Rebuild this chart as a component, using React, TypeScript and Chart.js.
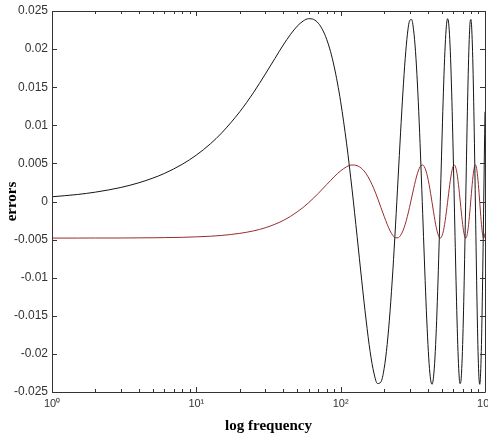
import React, { useEffect, useRef } from 'react';
import { Chart, registerables } from 'chart.js';

Chart.register(...registerables);

// frequency samples (Hz)
const frequencies = [
  1, 1.5, 2, 3, 4, 5, 6, 8, 10, 12.5, 15, 20, 25, 30, 35, 40, 45, 50, 55, 60,
  65, 70, 75, 80, 85, 90, 95, 100, 110, 120, 130, 140, 150, 160, 170, 180, 190,
  200, 210, 220, 230, 240, 250, 260, 270, 280, 290, 300, 310, 320, 330, 340,
  350, 360, 370, 380, 390, 400, 410, 420, 430, 440, 450, 460, 470, 480, 490,
  500, 510, 520, 530, 540, 550, 560, 570, 580, 590, 600, 610, 620, 630, 640,
  650, 660, 670, 680, 690, 700, 710, 720, 730, 740, 750, 760, 770, 780, 790,
  800, 810, 820, 830, 840, 850, 860, 870, 880, 890, 900, 910, 920, 930, 940,
  950, 960, 970, 980, 990, 1000,
];

// black curve (large oscillation)
const blackErrors = [
  0.00062, 0.00092, 0.00123, 0.00184, 0.00246, 0.00307, 0.00368, 0.00489, 0.00609, 0.00756,
  0.00901, 0.01178, 0.01435, 0.0167, 0.01876, 0.02053, 0.02195, 0.02301, 0.02369, 0.02399,
  0.02389, 0.0234, 0.02252, 0.02128, 0.0197, 0.01777, 0.01555, 0.01309, 0.00756, 0.00154,
  -0.00459, -0.01041, -0.01555, -0.0197, -0.02252, -0.02389, -0.02369, -0.02194, -0.01876, -0.01435,
  -0.00901, -0.00307, 0.00307, 0.00901, 0.01435, 0.01876, 0.02195, 0.02369, 0.02389, 0.02252,
  0.0197, 0.01555, 0.01041, 0.00459, -0.00154, -0.00756, -0.01309, -0.01777, -0.02128, -0.0234,
  -0.02399, -0.02301, -0.02053, -0.0167, -0.01178, -0.00609, 0, 0.00609, 0.01178, 0.0167,
  0.02053, 0.02301, 0.02399, 0.0234, 0.02128, 0.01777, 0.01309, 0.00756, 0.00154, -0.00459,
  -0.01041, -0.01555, -0.0197, -0.02252, -0.02389, -0.02369, -0.02194, -0.01876, -0.01435, -0.00901,
  -0.00307, 0.00307, 0.00901, 0.01435, 0.01876, 0.02195, 0.02369, 0.02389, 0.02252, 0.0197,
  0.01555, 0.01041, 0.00459, -0.00154, -0.00756, -0.01309, -0.01777, -0.02128, -0.0234, -0.02399,
  -0.02301, -0.02053, -0.0167, -0.01178, -0.00609, 0, 0.00609, 0.01178,
];

// red curve (small oscillation)
const redErrors = [
  -0.0048, -0.0048, -0.00479, -0.00479, -0.00477, -0.00476, -0.00474, -0.0047, -0.00464, -0.00456,
  -0.00445, -0.00418, -0.00385, -0.00345, -0.00299, -0.00249, -0.00194, -0.00136, -0.00077, -0.00015,
  0.00046, 0.00107, 0.00166, 0.00222, 0.00274, 0.00323, 0.00366, 0.00402, 0.00456, 0.00479,
  0.00471, 0.00432, 0.00366, 0.00274, 0.00166, 0.00046, -0.00077, -0.00194, -0.00299, -0.00385,
  -0.00445, -0.00476, -0.00476, -0.00445, -0.00385, -0.00299, -0.00194, -0.00077, 0.00046, 0.00166,
  0.00274, 0.00366, 0.00432, 0.00471, 0.00479, 0.00456, 0.00402, 0.00323, 0.00222, 0.00107,
  -0.00015, -0.00136, -0.00249, -0.00345, -0.00418, -0.00464, -0.0048, -0.00464, -0.00418, -0.00345,
  -0.00249, -0.00136, -0.00015, 0.00107, 0.00222, 0.00323, 0.00402, 0.00456, 0.00479, 0.00471,
  0.00432, 0.00366, 0.00274, 0.00166, 0.00046, -0.00077, -0.00194, -0.00299, -0.00385, -0.00445,
  -0.00476, -0.00476, -0.00445, -0.00385, -0.00299, -0.00194, -0.00077, 0.00046, 0.00166, 0.00274,
  0.00366, 0.00432, 0.00471, 0.00479, 0.00456, 0.00402, 0.00323, 0.00222, 0.00107, -0.00015,
  -0.00136, -0.00249, -0.00345, -0.00418, -0.00464, -0.0048, -0.00464, -0.00418,
];

const xTickValues = [1, 10, 100, 1000];
const xTickLabels = ['10\u2070', '10\u00B9', '10\u00B2', '10\u00B3'];
const yTickValues = [0.025, 0.02, 0.015, 0.01, 0.005, 0, -0.005, -0.01, -0.015, -0.02, -0.025];
const yTickLabels = ['0.025', '0.02', '0.015', '0.01', '0.005', '0', '-0.005', '-0.01', '-0.015', '-0.02', '-0.025'];

const AXIS_COLOR = '#333333';

const matlabAxes = {
  id: 'matlabAxes',
  afterDatasetsDraw(chart: any) {
    const { ctx, chartArea } = chart;
    const { left, right, top, bottom } = chartArea;
    const xs = chart.scales.x;
    const ys = chart.scales.y;
    ctx.save();
    ctx.strokeStyle = AXIS_COLOR;
    ctx.lineWidth = 1;
    ctx.beginPath();
    ctx.rect(left + 0.5, top + 0.5, right - left, bottom - top);
    ctx.stroke();
    ctx.beginPath();
    // x ticks, major and minor, inward on bottom and top
    for (let d = 0; d < xTickValues.length; d++) {
      const base = xTickValues[d];
      const maxM = d === xTickValues.length - 1 ? 1 : 9;
      for (let m = 1; m <= maxM; m++) {
        const px = Math.round(xs.getPixelForValue(base * m)) + 0.5;
        const len = m === 1 ? 5 : 3;
        ctx.moveTo(px, bottom);
        ctx.lineTo(px, bottom - len);
        ctx.moveTo(px, top);
        ctx.lineTo(px, top + len);
      }
    }
    for (const v of yTickValues) {
      const py = Math.round(ys.getPixelForValue(v)) + 0.5;
      ctx.moveTo(left, py);
      ctx.lineTo(left + 5, py);
      ctx.moveTo(right, py);
      ctx.lineTo(right - 5, py);
    }
    ctx.stroke();
    ctx.restore();
  },
};

export default function App() {
  const canvasRef = useRef<HTMLCanvasElement | null>(null);

  useEffect(() => {
    const canvas = canvasRef.current;
    if (!canvas) return;
    const chart = new Chart(canvas, {
      type: 'line',
      data: {
        datasets: [
          {
            label: 'black',
            data: frequencies.map((f, i) => ({ x: f, y: blackErrors[i] })),
            borderColor: '#151515',
            borderWidth: 1,
            pointRadius: 0,
            cubicInterpolationMode: 'monotone',
          },
          {
            label: 'red',
            data: frequencies.map((f, i) => ({ x: f, y: redErrors[i] })),
            borderColor: 'rgb(150, 45, 45)',
            borderWidth: 1,
            pointRadius: 0,
            cubicInterpolationMode: 'monotone',
          },
        ],
      },
      options: {
        animation: false,
        responsive: false,
        devicePixelRatio: 1,
        layout: { padding: { top: 11, right: 3, left: 0, bottom: 0 } },
        plugins: {
          legend: { display: false },
          tooltip: { enabled: false },
        },
        scales: {
          x: {
            type: 'logarithmic',
            min: 1,
            max: 1000,
            grid: { display: false, drawTicks: false },
            border: { display: false },
            afterBuildTicks: (scale: any) => {
              scale.ticks = xTickValues.map((v) => ({ value: v }));
            },
            afterFit: (scale: any) => {
              scale.height = 47;
              scale.paddingLeft = 0;
              scale.paddingRight = 0;
            },
            ticks: {
              autoSkip: false,
              maxRotation: 0,
              padding: 5,
              color: '#333333',
              font: { family: '"Liberation Sans", Arial, sans-serif', size: 11 },
              callback: (value: any) => {
                const idx = xTickValues.indexOf(Number(value));
                return idx >= 0 ? xTickLabels[idx] : '';
              },
            },
            title: {
              display: true,
              text: 'log frequency',
              color: '#000000',
              padding: { top: 0, bottom: 4 },
              font: { family: '"Liberation Serif", "Times New Roman", serif', size: 15, weight: 'bold' },
            },
          },
          y: {
            type: 'linear',
            min: -0.025,
            max: 0.025,
            grid: { display: false, drawTicks: false },
            border: { display: false },
            afterBuildTicks: (scale: any) => {
              scale.ticks = yTickValues.map((v) => ({ value: v }));
            },
            afterFit: (scale: any) => {
              scale.width = 52;
              scale.paddingTop = 0;
              scale.paddingBottom = 0;
            },
            ticks: {
              autoSkip: false,
              padding: 4,
              color: '#333333',
              font: { family: '"Liberation Sans", Arial, sans-serif', size: 12 },
              callback: (value: any) => {
                const idx = yTickValues.findIndex((v) => Math.abs(v - Number(value)) < 1e-9);
                return idx >= 0 ? yTickLabels[idx] : '';
              },
            },
            title: {
              display: true,
              text: 'errors',
              color: '#000000',
              padding: { top: 3, bottom: 0 },
              font: { family: '"Liberation Serif", "Times New Roman", serif', size: 15, weight: 'bold' },
            },
          },
        },
      },
      plugins: [matlabAxes],
    });
    return () => chart.destroy();
  }, []);

  return (
    <div style={{ position: 'fixed', left: 0, top: 0, width: 488, height: 439, background: '#ffffff' }}>
      <canvas ref={canvasRef} width={488} height={439} style={{ display: 'block', width: 488, height: 439 }} />
    </div>
  );
}
